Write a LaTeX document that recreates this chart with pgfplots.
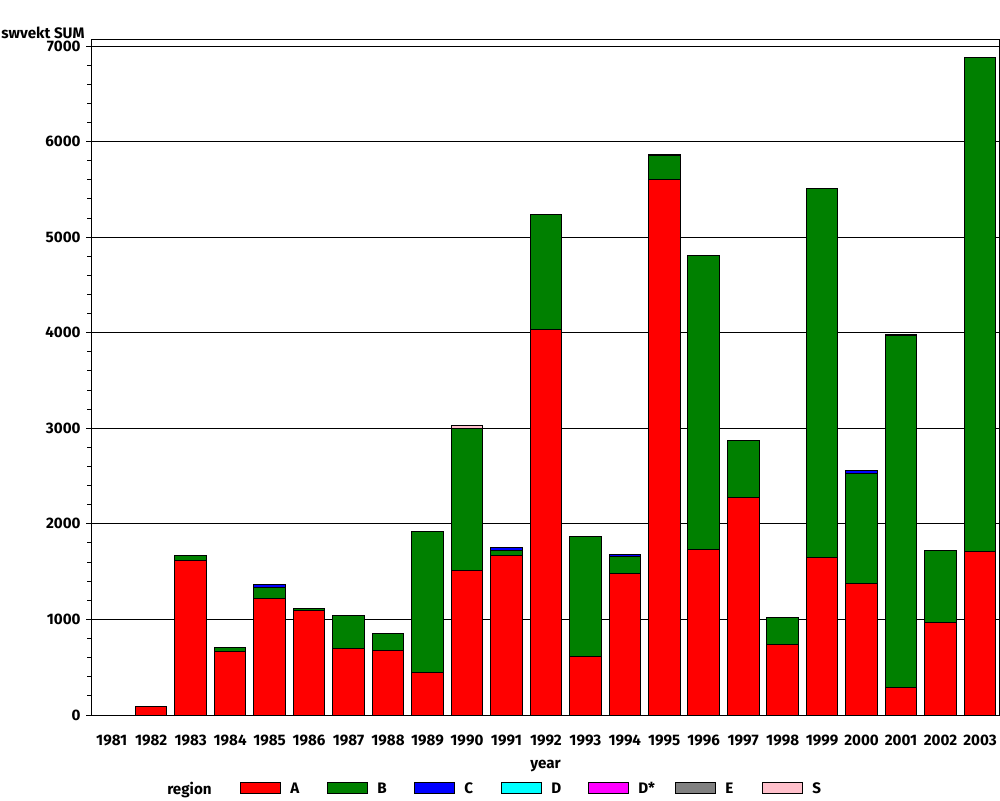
\documentclass[border=0pt]{standalone}
\usepackage{fontspec}
\setmainfont{Fira Sans}[Numbers=Proportional]
\usepackage{pgfplots}
\usepackage{pgfplotstable}
\pgfplotsset{compat=1.18}

\definecolor{cA}{RGB}{255,0,0}
\definecolor{cB}{RGB}{0,128,0}
\definecolor{cC}{RGB}{0,0,255}
\definecolor{cD}{RGB}{0,255,255}
\definecolor{cDs}{RGB}{255,0,255}
\definecolor{cE}{RGB}{128,128,128}
\definecolor{cS}{RGB}{255,192,203}

% swvekt SUM by year, stacked by region
\pgfplotstableread{
year A    B    C  D  Ds E  S
1981 0    0    0  0  0  0  0
1982 84   0    0  0  0  0  0
1983 1612 60   0  0  0  0  0
1984 668  42   0  0  0  0  0
1985 1224 105  32 0  0  0  0
1986 1095 15   0  0  0  0  0
1987 700  345  0  0  0  0  0
1988 680  178  0  0  0  0  0
1989 440  1475 0  0  0  0  0
1990 1517 1476 0  0  0  0  40
1991 1664 62   22 0  0  0  0
1992 4039 1193 0  0  0  0  0
1993 617  1256 0  0  0  0  0
1994 1483 173  25 0  0  0  0
1995 5605 250  0  12 0  0  0
1996 1737 3066 0  0  0  0  0
1997 2271 606  0  0  0  0  0
1998 743  282  0  0  0  0  0
1999 1653 3861 0  0  0  0  0
2000 1381 1151 22 0  0  0  0
2001 293  3683 0  0  0  10 0
2002 963  763  0  0  0  0  0
2003 1706 5179 0  0  0  0  0
}\sums

\newcommand{\lbl}{\fontsize{7.6}{9}\selectfont\bfseries}

\begin{document}
\lbl
\begin{tikzpicture}
\useasboundingbox (-46pt,-42.5pt) rectangle (454pt,357.5pt);
\begin{axis}[
  at={(0,0)}, anchor=south west,
  scale only axis, width=453.5pt, height=337.5pt,
  ybar stacked, bar width=0.8,
  xmin=1980.5, xmax=2003.48,
  ymin=0, ymax=7063,
  xtick={1981,...,2003},
  ytick={0,1000,...,7000},
  minor y tick num=4,
  tick align=outside,
  major tick length=3pt, minor tick length=2.5pt,
  x tick style={draw=none},
  ytick pos=left,
  /pgf/number format/1000 sep={},
  /pgf/number format/assume math mode=true,
  ticklabel style={font=\lbl},
  xticklabel style={yshift=-3pt, text height=1.6ex, text depth=0.2ex},
  ymajorgrids, major grid style={black, line width=0.5pt},
  axis line style={line width=0.5pt},
  every tick/.style={black, line width=0.5pt},
  xlabel={year},
  xlabel style={font=\lbl, at={(axis description cs:0.5,-0.0755)}, anchor=center},
  ylabel={swvekt SUM},
  ylabel style={font=\lbl, rotate=-90, at={(axis description cs:-0.054,1.010)}, anchor=center},
  every axis plot/.append style={draw=black, line width=0.5pt},
  legend columns=8,
  legend style={at={(axis description cs:0.0727,-0.1096)}, anchor=west,
    draw=none, inner sep=0pt, column sep=3pt,
    nodes={inner xsep=1.5pt},
    font=\lbl},
  legend image code/.code={\draw[#1, draw=black, line width=0.5pt] (0pt,-2.5pt) rectangle (20pt,3pt);},
]
\addlegendimage{empty legend}
\addlegendentry{\makebox[32pt][l]{region}}
\addplot[fill=cA] table[x=year,y=A]{\sums};
\addlegendentry{\makebox[14pt][l]{A}}
\addplot[fill=cB] table[x=year,y=B]{\sums};
\addlegendentry{\makebox[14pt][l]{B}}
\addplot[fill=cC] table[x=year,y=C]{\sums};
\addlegendentry{\makebox[14pt][l]{C}}
\addplot[fill=cD] table[x=year,y=D]{\sums};
\addlegendentry{\makebox[14pt][l]{D}}
\addplot[fill=cDs] table[x=year,y=Ds]{\sums};
\addlegendentry{\makebox[14pt][l]{D*}}
\addplot[fill=cE] table[x=year,y=E]{\sums};
\addlegendentry{\makebox[14pt][l]{E}}
\addplot[fill=cS] table[x=year,y=S]{\sums};
\addlegendentry{\makebox[14pt][l]{S}}
\end{axis}
\end{tikzpicture}
\end{document}
